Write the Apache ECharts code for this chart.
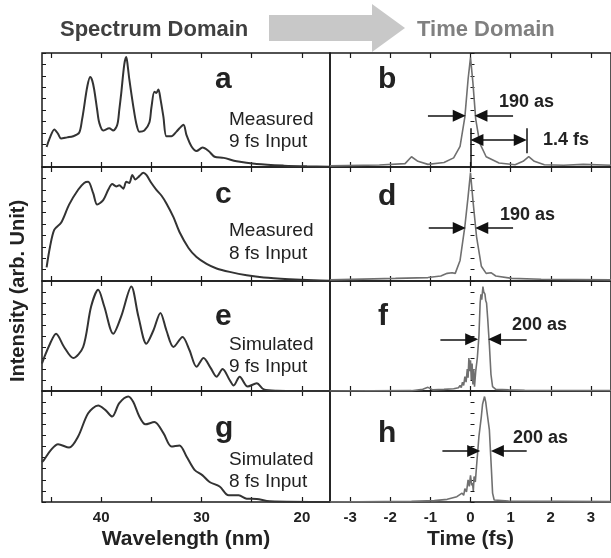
<!DOCTYPE html>
<html>
<head>
<meta charset="utf-8">
<script src="https://cdn.jsdelivr.net/npm/echarts@6.0.0/dist/echarts.min.js"></script>
<style>
  html, body { margin: 0; padding: 0; background: #fff; }
  #chart { width: 611px; height: 558px; }
</style>
</head>
<body>
<div id="chart"></div>
<script>
// axis ticks
const wlTicks = [20, 25, 30, 35, 40, 45]
const wlLabels = [20, 30, 40]
const timeTicks = [-3, -2, -1, 0, 1, 2, 3]

// spectra: [wavelength nm, intensity]
const specA = [[45.44,0.175],[45.1,0.26],[44.67,0.33],[44.3,0.29],[44.0,0.25],[43.4,0.26],[42.8,0.27],[42.2,0.30],[41.9,0.42],[41.7,0.53],[41.4,0.70],[41.1,0.79],[40.9,0.76],[40.7,0.68],[40.4,0.50],[40.2,0.39],[39.8,0.32],[39.2,0.34],[38.8,0.32],[38.4,0.37],[38.2,0.50],[38.0,0.65],[37.7,0.90],[37.5,0.965],[37.35,0.88],[37.2,0.77],[36.8,0.53],[36.5,0.38],[36.2,0.31],[35.7,0.32],[35.2,0.39],[35.0,0.52],[34.7,0.66],[34.5,0.65],[34.3,0.68],[34.1,0.60],[33.8,0.44],[33.5,0.27],[33.0,0.27],[32.5,0.31],[32.2,0.34],[31.8,0.37],[31.5,0.28],[31.0,0.18],[30.5,0.14],[29.9,0.17],[29.3,0.14],[28.7,0.09],[27.8,0.08],[26.5,0.05],[24.5,0.026],[21.8,0.012],[19.5,0.006],[17.2,0.003]]
const specC = [[45.44,0.12],[45.1,0.30],[44.67,0.45],[44.0,0.51],[43.2,0.67],[42.3,0.80],[41.7,0.86],[41.3,0.87],[40.8,0.77],[40.4,0.67],[39.8,0.71],[39.3,0.80],[38.9,0.85],[38.5,0.83],[38.2,0.84],[37.8,0.81],[37.5,0.87],[37.2,0.86],[36.9,0.93],[36.6,0.89],[36.2,0.92],[35.8,0.95],[35.5,0.93],[35.0,0.86],[34.5,0.80],[34.0,0.75],[33.5,0.68],[32.8,0.56],[32.2,0.43],[31.3,0.29],[30.5,0.21],[29.5,0.15],[28.5,0.11],[27.2,0.08],[25.5,0.05],[23.8,0.03],[21.2,0.015],[18.8,0.006],[17.2,0.003]]
const specE = [[45.9,0.25],[45.7,0.30],[45.1,0.43],[44.5,0.52],[43.7,0.40],[42.8,0.30],[41.8,0.40],[41.0,0.77],[40.3,0.92],[39.7,0.77],[38.8,0.52],[38.0,0.68],[37.0,0.95],[36.3,0.68],[35.5,0.43],[34.8,0.55],[34.1,0.71],[33.5,0.55],[32.8,0.40],[31.9,0.49],[31.2,0.37],[30.5,0.22],[29.8,0.30],[29.1,0.21],[28.5,0.13],[27.9,0.20],[27.2,0.10],[26.8,0.05],[26.2,0.13],[25.4,0.04],[24.5,0.07],[23.8,0.015],[22.5,0.003],[17.2,0]]
const specG = [[45.9,0.36],[45.7,0.38],[45.0,0.47],[44.3,0.52],[43.2,0.49],[42.3,0.59],[41.3,0.80],[40.3,0.87],[39.6,0.83],[38.9,0.77],[38.2,0.89],[37.3,0.95],[36.8,0.90],[36.2,0.77],[35.6,0.70],[34.7,0.72],[33.8,0.62],[33.0,0.50],[32.2,0.51],[31.5,0.41],[30.7,0.29],[29.9,0.24],[29.2,0.18],[28.2,0.14],[27.3,0.06],[26.3,0.06],[25.5,0.03],[24.5,0.027],[23.2,0.006],[17.2,0]]

// pulses: [time fs, intensity]
const pulseB = [[-3.5,0.01],[-2.27,0.018],[-1.63,0.03],[-1.47,0.09],[-1.31,0.05],[-1.06,0.023],[-0.66,0.04],[-0.42,0.08],[-0.26,0.18],[-0.14,0.44],[-0.06,0.77],[0,0.96],[0.06,0.74],[0.13,0.42],[0.23,0.21],[0.39,0.09],[0.71,0.035],[1.11,0.02],[1.31,0.05],[1.45,0.09],[1.59,0.05],[1.84,0.02],[2.32,0.015],[2.81,0.023],[3.5,0.015]]
const pulseD = [[-3.5,0.01],[-1.87,0.023],[-1.06,0.03],[-0.74,0.044],[-0.58,0.067],[-0.46,0.073],[-0.38,0.067],[-0.26,0.18],[-0.14,0.48],[-0.06,0.74],[0,0.95],[0.06,0.71],[0.15,0.39],[0.27,0.13],[0.39,0.067],[0.51,0.073],[0.63,0.044],[1.03,0.023],[1.76,0.015],[3.5,0.01]]
const pulseF = [[-3.5,0],[-1.47,0.003],[-1.19,0.015],[-1.06,0.033],[-0.94,0.01],[-0.66,0.015],[-0.42,0.02],[-0.30,0.03],[-0.26,0.05],[-0.23,0.03],[-0.20,0.08],[-0.17,0.05],[-0.14,0.13],[-0.11,0.08],[-0.08,0.20],[-0.06,0.12],[-0.04,0.30],[-0.02,0.18],[0,0.28],[0.02,0.10],[0.04,0.25],[0.06,0.06],[0.08,0.20],[0.10,0.04],[0.13,0.18],[0.17,0.30],[0.21,0.50],[0.24,0.80],[0.26,0.88],[0.28,0.83],[0.31,0.95],[0.33,0.90],[0.36,0.88],[0.38,0.82],[0.40,0.80],[0.43,0.65],[0.47,0.42],[0.51,0.15],[0.55,0.04],[0.63,0.015],[0.95,0.01],[1.35,0.006],[3.5,0.003]]
const pulseH = [[-3.5,0],[-1.47,0.006],[-0.90,0.012],[-0.58,0.024],[-0.34,0.048],[-0.21,0.08],[-0.17,0.06],[-0.14,0.12],[-0.10,0.09],[-0.06,0.20],[-0.03,0.14],[0,0.24],[0.03,0.15],[0.05,0.17],[0.07,0.10],[0.09,0.23],[0.12,0.18],[0.15,0.32],[0.21,0.59],[0.27,0.77],[0.30,0.88],[0.35,0.95],[0.38,0.90],[0.40,0.84],[0.47,0.65],[0.52,0.30],[0.55,0.08],[0.59,0.018],[0.95,0.009],[3.5,0.003]]

const panels = [
  { col: 0, row: 0, data: specA },
  { col: 1, row: 0, data: pulseB },
  { col: 0, row: 1, data: specC },
  { col: 1, row: 1, data: pulseD },
  { col: 0, row: 2, data: specE },
  { col: 1, row: 2, data: pulseF },
  { col: 0, row: 3, data: specG },
  { col: 1, row: 3, data: pulseH }
]

const rowTop = [53, 167, 281, 391]
const rowBottom = [167, 281, 391, 502]
const font = 'Liberation Sans, Arial, sans-serif'
const ink = '#1a1a1a'

// FWHM arrows for the time panels (panel index -> [y, leftFrom, leftTo, rightFrom, rightTo])
// "to" is where the arrowhead centre sits, the tip lands ~0.16 fs further on
const fwhm = {
  1: [0.45, -1.06, -0.28, 1.06, 0.26],
  3: [0.465, -1.04, -0.28, 1.06, 0.28],
  5: [0.47, -0.75, 0.03, 1.40, 0.60],
  7: [0.46, -0.70, 0.08, 1.40, 0.67]
}

function arrowLines(i) {
  const f = fwhm[i]
  if (!f) return []
  const out = [
    [{ coord: [f[1], f[0]] }, { coord: [f[2], f[0]] }],
    [{ coord: [f[3], f[0]] }, { coord: [f[4], f[0]] }]
  ]
  if (i === 1) {
    out.push([{ coord: [0, 0], symbol: 'none' }, { coord: [0, 0.34], symbol: 'none' }])
    out.push([{ coord: [1.4, 0.12], symbol: 'none' }, { coord: [1.4, 0.34], symbol: 'none' }])
    out.push([{ coord: [0.16, 0.237], symbol: 'triangle' }, { coord: [1.24, 0.237] }])
  }
  return out
}

const grids = [], xAxes = [], yAxes = [], series = []
panels.forEach((p, i) => {
  const left = p.col === 0
  const last = p.row === 3
  grids.push({
    left: left ? 42 : 330,
    width: left ? 288 : 289.3,
    top: rowTop[p.row],
    height: rowBottom[p.row] - rowTop[p.row],
    show: true,
    borderColor: ink,
    borderWidth: 1.5
  })
  const range = left ? { min: 17.2, max: 45.9, inverse: true } : { min: -3.5, max: 3.5 }
  const ticks = left ? wlTicks : timeTicks
  const tick = { inside: true, length: 5, customValues: ticks, lineStyle: { color: ink, width: 1.2 } }
  xAxes.push(Object.assign({
    type: 'value', gridIndex: i, position: 'bottom',
    splitLine: { show: false }, axisLine: { show: false }, axisTick: tick,
    axisLabel: {
      show: last, customValues: left ? wlLabels : timeTicks, margin: 8,
      fontFamily: font, fontWeight: 'bold', fontSize: 15, color: '#222'
    },
    name: last ? (left ? 'Wavelength (nm)' : 'Time (fs)') : '',
    nameLocation: 'middle', nameGap: 27,
    nameTextStyle: { fontFamily: font, fontWeight: 'bold', fontSize: 21, color: '#222' }
  }, range))
  xAxes.push(Object.assign({
    type: 'value', gridIndex: i, position: 'top',
    splitLine: { show: false }, axisLine: { show: false }, axisTick: tick,
    axisLabel: { show: false }
  }, range))
  yAxes.push({
    type: 'value', gridIndex: i, min: 0, max: 1, interval: 0.1,
    splitLine: { show: false }, axisLine: { show: false }, axisLabel: { show: false },
    axisTick: { inside: true, length: 4, lineStyle: { color: ink, width: 1 } }
  })
  series.push({
    type: 'line',
    xAxisIndex: 2 * i,
    yAxisIndex: i,
    data: p.data,
    symbol: 'none',
    smooth: left ? 0.3 : false,
    animation: false,
    lineStyle: { color: left ? '#333' : '#707070', width: left ? 2 : 1.6 },
    markLine: {
      silent: true,
      animation: false,
      symbol: ['none', 'triangle'],
      symbolSize: [12, 13],
      label: { show: false },
      lineStyle: { color: '#111', width: 1.5, type: 'solid' },
      data: arrowLines(i)
    }
  })
})

function txt(x, y, text, size, bold, color) {
  return {
    type: 'text', x: x, y: y,
    style: {
      text: text, fill: color || '#222', font: (bold ? 'bold ' : '') + size + 'px ' + font,
      align: 'left', verticalAlign: 'middle'
    }
  }
}

const graphics = [
  {
    type: 'polygon',
    shape: { points: [[269, 15], [372, 15], [372, 4], [405, 28], [372, 52], [372, 41], [269, 41]] },
    style: { fill: '#c8c8c8' }
  },
  txt(60, 30, 'Spectrum Domain', 22, true, '#404040'),
  txt(417, 30, 'Time Domain', 22, true, '#808080'),
  txt(215, 80, 'a', 30, true), txt(378, 80, 'b', 30, true),
  txt(215, 195, 'c', 30, true), txt(378, 197, 'd', 30, true),
  txt(215, 317, 'e', 30, true), txt(378, 317, 'f', 30, true),
  txt(215, 429, 'g', 30, true), txt(378, 434, 'h', 30, true),
  txt(229, 120, 'Measured', 19), txt(229, 142, '9 fs Input', 19),
  txt(229, 231, 'Measured', 19), txt(229, 254, '8 fs Input', 19),
  txt(229, 345, 'Simulated', 19), txt(229, 367, '9 fs Input', 19),
  txt(229, 460, 'Simulated', 19), txt(229, 482, '8 fs Input', 19),
  txt(499, 102, '190 as', 18, true), txt(543, 140, '1.4 fs', 18, true),
  txt(500, 215, '190 as', 18, true),
  txt(512, 325, '200 as', 18, true),
  txt(513, 438, '200 as', 18, true),
  {
    type: 'text', x: 18, y: 291, rotation: Math.PI / 2,
    style: {
      text: 'Intensity (arb. Unit)', fill: '#222', font: 'bold 20px ' + font,
      align: 'center', verticalAlign: 'middle'
    }
  }
]

const chart = echarts.init(document.getElementById('chart'))
chart.setOption({
  animation: false,
  grid: grids,
  xAxis: xAxes,
  yAxis: yAxes,
  series: series,
  graphic: graphics
})
</script>
</body>
</html>
